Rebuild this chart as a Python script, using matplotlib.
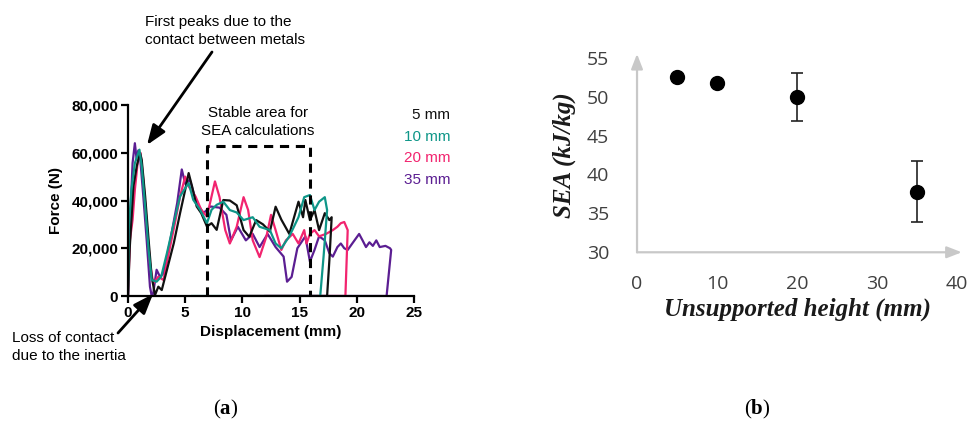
import numpy as np
import matplotlib
matplotlib.use("Agg")
import matplotlib.pyplot as plt
from matplotlib.patches import FancyArrowPatch

plt.rcParams["mathtext.fontset"] = "custom"
plt.rcParams["mathtext.rm"] = "Liberation Serif"
plt.rcParams["mathtext.bf"] = "Liberation Serif:bold"

# ---------------------------------------------------------------
# Data (a): force-displacement curves
# ---------------------------------------------------------------
x_5mm = [0.0, 0.15, 0.47, 0.76, 1.05, 1.2, 1.5, 1.8, 2.07, 2.36, 2.65, 2.95, 3.4, 4.0, 4.55,
         5.0, 5.3, 5.6, 6.0, 6.4, 6.9, 7.3, 7.75, 8.33, 8.9, 9.5, 10.1, 10.6, 11.2, 11.8,
         12.4, 12.9, 13.4, 14.1, 14.9, 15.3, 15.5, 15.9, 16.3, 16.7, 17.2, 17.6, 17.8,
         17.6, 17.4, 9.0]
f_5mm = [0, 20000, 45900, 54300, 59900, 57000, 41700, 23500, 8100, 400, 3900, 2500, 10900,
         22100, 34700, 44500, 51500, 45900, 37500, 34700, 29100, 30500, 27700, 40200, 40000,
         38000, 27600, 24800, 31800, 30000, 27000, 37400, 32000, 26000, 39500, 33000, 40200,
         31800, 36000, 27600, 34700, 31800, 33000, 15000, 0, 0]

x_10mm = [0.0, 0.06, 0.3, 0.6, 1.0, 1.2, 1.5, 1.8, 2.07, 2.5, 2.9, 3.4, 4.0, 4.55, 5.0, 5.3,
          5.7, 6.3, 6.9, 7.3, 7.75, 8.33, 8.9, 9.5, 10.1, 10.9, 11.5, 12.4, 12.9, 13.4, 14.1,
          14.9, 15.4, 15.9, 16.3, 16.7, 17.2, 17.4, 17.1, 16.8, 5.6]
f_10mm = [0, 27700, 44500, 55700, 61300, 54300, 37500, 19300, 6700, 6000, 8100, 17900, 30500,
          41700, 45200, 47300, 40300, 36100, 30500, 36100, 38200, 39500, 36000, 35000, 31800,
          33000, 29000, 27600, 22000, 20000, 25000, 33000, 41400, 42300, 36000, 39500, 41400,
          36000, 17000, 0, 0]

x_20mm = [0.0, 0.17, 0.4, 0.6, 0.9, 1.1, 1.34, 1.63, 1.92, 2.2, 2.65, 3.1, 3.5, 4.1, 4.55,
          5.0, 5.3, 5.9, 6.4, 6.9, 7.6, 8.0, 8.5, 8.9, 9.5, 10.1, 10.5, 10.9, 11.5, 12.1,
          12.5, 12.9, 13.4, 13.8, 14.4, 14.9, 15.4, 15.6, 15.9, 16.3, 16.7, 17.3, 17.9, 18.3,
          18.6, 18.9, 19.2, 19.0, 9.0]
f_20mm = [0, 23500, 31900, 44500, 58500, 59900, 48700, 30500, 13700, 5300, 8100, 6700, 16500,
          30500, 41700, 50000, 45900, 41700, 36100, 33300, 48000, 41400, 27600, 22000, 29000,
          41400, 36000, 23300, 16300, 25000, 34000, 27600, 19300, 23300, 26000, 22000, 27600,
          22000, 26000, 27600, 25000, 26000, 27600, 29000, 30500, 31000, 27600, 0, 0]

x_35mm = [0.0, 0.17, 0.4, 0.6, 0.76, 0.9, 1.05, 1.34, 1.63, 1.92, 2.07, 2.2, 2.5, 2.8, 3.1,
          3.7, 4.3, 4.7, 5.0, 5.4, 6.0, 6.6, 7.2, 8.0, 8.6, 9.0, 9.6, 10.3, 10.9, 11.5, 12.2,
          12.9, 13.6, 13.9, 14.3, 14.8, 15.5, 15.9, 16.3, 16.7, 17.2, 17.6, 17.9, 18.3, 18.6,
          18.9, 19.2, 19.6, 20.2, 20.5, 20.8, 21.1, 21.4, 21.7, 22.0, 22.5, 22.9, 23.0, 22.6,
          12.0]
f_35mm = [0, 30500, 55700, 64000, 57000, 61000, 58500, 41700, 23500, 3900, 0, 1000, 11000,
          8000, 9500, 23500, 39000, 53000, 47000, 48700, 39000, 34700, 37500, 37000, 34000,
          23300, 29000, 23300, 26000, 20500, 26000, 20500, 16500, 6000, 8000, 20000, 25000,
          14400, 19300, 25000, 23300, 17900, 16500, 20500, 22000, 20000, 19300, 22000, 26000,
          23300, 20500, 22500, 21000, 23300, 20500, 21000, 20000, 19300, 0, 0]

series_labels = ["5 mm", "10 mm", "20 mm", "35 mm"]
series_colors = ["#111111", "#0e9688", "#f2246f", "#5b1e92"]

force_ticks = [0, 20000, 40000, 60000, 80000]
force_ticklabels = ["0", "20,000", "40,000", "60,000", "80,000"]
disp_ticks = [0, 5, 10, 15, 20, 25]

stable_area = [6.9, 15.9, 62800]   # x start, x end, top force

# ---------------------------------------------------------------
# Data (b): SEA vs unsupported height
# ---------------------------------------------------------------
heights = [5, 10, 20, 35]
sea = [52.5, 51.7, 50.0, 37.8]
sea_err = [0.3, 0.3, 3.1, 3.9]
sea_ticks = [30, 35, 40, 45, 50, 55]
height_ticks = [0, 10, 20, 30, 40]

fig = plt.figure(figsize=(9.69, 4.30), dpi=100)
fig.patch.set_facecolor("white")

def px(x, y):
    # pixel position (from top-left) -> figure fraction
    return x / 969, 1 - y / 430

# ════════════════════════════════════════════════════════════════
# (a)
# ════════════════════════════════════════════════════════════════
sans = "Liberation Sans"
ax = fig.add_axes([0.1321, 0.3116, 0.2952, 0.4442])
curves = [(x_35mm, f_35mm, 3), (x_20mm, f_20mm, 2), (x_5mm, f_5mm, 0), (x_10mm, f_10mm, 1)]
for xs, fs, i in curves:
    ax.plot(xs, fs, color=series_colors[i], lw=1.6, solid_joinstyle="round")

x0, x1, top = stable_area
ax.plot([x0, x0, x1, x1], [0, top, top, 0], color="black", lw=2.2,
        linestyle=(0, (3, 2.2)))

ax.set_xlim(0, 25)
ax.set_ylim(0, 80000)
ax.set_xticks(disp_ticks)
ax.set_yticks(force_ticks)
ax.set_yticklabels(force_ticklabels)
for s in ["top", "right"]:
    ax.spines[s].set_visible(False)
for s in ["left", "bottom"]:
    ax.spines[s].set_linewidth(1.6)
ax.tick_params(width=1.6, length=5, labelsize=11, pad=2)
for lab in ax.get_xticklabels() + ax.get_yticklabels():
    lab.set_fontweight("bold")
    lab.set_fontfamily(sans)
ax.set_xlabel("Displacement (mm)", fontsize=11, fontweight="bold", family=sans, labelpad=4)
ax.set_ylabel("Force (N)", fontsize=11, fontweight="bold", family=sans, labelpad=6)

# legend as coloured text
for i, lab in enumerate(series_labels):
    fig.text(*px(450, 115 + 21.6 * i), lab, color=series_colors[i],
             fontsize=11, family=sans, ha="right", va="center")

fig.text(*px(258, 113), "Stable area for", fontsize=11, family=sans, ha="center", va="center")
fig.text(*px(258, 131), "SEA calculations", fontsize=11, family=sans, ha="center", va="center")

fig.text(*px(145, 22), "First peaks due to the", fontsize=11, family=sans, va="center")
fig.text(*px(145, 40), "contact between metals", fontsize=11, family=sans, va="center")
fig.text(*px(12, 338), "Loss of contact", fontsize=11, family=sans, va="center")
fig.text(*px(12, 356), "due to the inertia", fontsize=11, family=sans, va="center")

arrow_kw = dict(arrowstyle="-|>,head_length=1.2,head_width=0.45", color="black", lw=2,
                shrinkA=0, shrinkB=0, mutation_scale=10, transform=fig.transFigure)
fig.add_artist(FancyArrowPatch(px(212, 52), px(147, 145), **arrow_kw))
fig.add_artist(FancyArrowPatch(px(118, 333), px(153, 294), **arrow_kw))

fig.text(*px(226, 409), r"($\mathbf{a}$)", fontsize=15, family="Liberation Serif",
         ha="center", va="center")

# ════════════════════════════════════════════════════════════════
# (b)
# ════════════════════════════════════════════════════════════════
bx = fig.add_axes([0.6574, 0.4133, 0.3302, 0.4523])
bx.errorbar(heights, sea, yerr=sea_err, fmt="o", color="black", ms=10,
            ecolor="#222222", elinewidth=1.2, capsize=4, capthick=1.2, clip_on=False)
bx.set_xlim(0, 40)
bx.set_ylim(30, 55)
bx.set_xticks(height_ticks)
bx.set_yticks(sea_ticks)
for s in bx.spines.values():
    s.set_visible(False)
bx.tick_params(length=0, labelsize=14, labelcolor="#404040")
bx.tick_params(axis="x", pad=16)
bx.tick_params(axis="y", pad=20)
for lab in bx.get_xticklabels() + bx.get_yticklabels():
    lab.set_fontfamily("Open Sans")

gray_kw = dict(arrowstyle="-|>,head_length=0.9,head_width=0.35", color="#c8c8c8", lw=1.6,
               shrinkA=0, shrinkB=0, mutation_scale=10)
bx.annotate("", xy=(40.6, 30), xytext=(0, 30), xycoords="data", arrowprops=gray_kw,
            annotation_clip=False)
bx.annotate("", xy=(0, 55.5), xytext=(0, 30), xycoords="data", arrowprops=gray_kw,
            annotation_clip=False)

bx.set_xlabel("Unsupported height (mm)", fontsize=18, fontweight="bold", style="italic",
              family="Liberation Serif", labelpad=4, color="#1a1a1a")
bx.set_ylabel("SEA (kJ/kg)", fontsize=18, fontweight="bold", style="italic",
              family="Liberation Serif", labelpad=8, color="#1a1a1a")

fig.text(*px(757, 409), r"($\mathbf{b}$)", fontsize=15, family="Liberation Serif",
         ha="center", va="center")

fig.savefig("out.png", dpi=100)
